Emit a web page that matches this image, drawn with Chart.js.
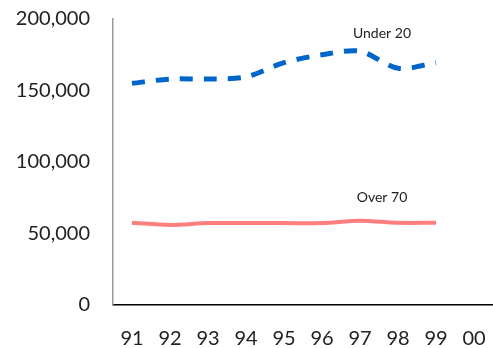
<!DOCTYPE html>
<html>
<head>
<meta charset="utf-8">
<script src="https://cdn.jsdelivr.net/npm/chart.js@4/dist/chart.umd.min.js"></script>
<style>
  html, body { margin: 0; padding: 0; background: #fff; }
  #wrap { width: 493px; height: 348px; }
</style>
</head>
<body>
<div id="wrap"><canvas id="chart" width="493" height="348"></canvas></div>
<script>
// years along the x axis
const years = ['91', '92', '93', '94', '95', '96', '97', '98', '99', '00'];
// series (no value for 00)
const under20 = [155000, 158000, 158000, 159500, 169500, 175000, 177500, 165500, 169500, null];
const over70 = [57500, 56000, 57300, 57300, 57300, 57300, 59000, 57500, 57500, null];
const yTicks = [0, 50000, 100000, 150000, 200000];

const tickFont = { family: 'Lato, "Open Sans", sans-serif', size: 20 };

// text labels placed next to a data point of each line
const seriesLabels = {
    id: 'seriesLabels',
    afterDatasetsDraw(chart) {
        const ctx = chart.ctx;
        const x = chart.scales.x;
        const y = chart.scales.y;
        ctx.save();
        ctx.font = '14px Lato, "Open Sans", sans-serif';
        ctx.fillStyle = '#222';
        ctx.textAlign = 'center';
        ctx.textBaseline = 'middle';
        ctx.fillText('Under 20', x.getPixelForValue(6) + 22, y.getPixelForValue(under20[6]) - 18);
        ctx.fillText('Over 70', x.getPixelForValue(6) + 22, y.getPixelForValue(over70[6]) - 23);
        ctx.restore();
    }
};

new Chart(document.getElementById('chart'), {
    type: 'line',
    data: {
        labels: years,
        datasets: [{
            label: 'Under 20',
            data: under20,
            borderColor: '#0066CC',
            borderWidth: 5,
            borderDash: [13, 11],
            pointRadius: 0,
            tension: 0.3
        }, {
            label: 'Over 70',
            data: over70,
            borderColor: '#FF7F7F',
            borderWidth: 4,
            pointRadius: 0,
            tension: 0.3
        }]
    },
    options: {
        responsive: false,
        animation: false,
        layout: { autoPadding: false, padding: { top: 19, right: 0, left: 0, bottom: 0 } },
        plugins: {
            legend: { display: false },
            tooltip: { enabled: false }
        },
        scales: {
            x: {
                offset: true,
                grid: { display: false, tickLength: 22 },
                border: { display: true, color: '#000', width: 1.5 },
                ticks: { font: tickFont, color: '#222', padding: 0, maxRotation: 0 },
                afterFit(scale) {
                    scale.height = 43;
                    scale.paddingLeft = 0;
                    scale.paddingRight = 0;
                }
            },
            y: {
                min: 0,
                max: 200000,
                grid: { display: false },
                border: { display: true, color: '#999', width: 1.5 },
                afterBuildTicks(scale) { scale.ticks = yTicks.map(v => ({ value: v })); },
                ticks: {
                    font: tickFont,
                    color: '#222',
                    padding: 15,
                    callback: v => v.toLocaleString('en-US')
                },
                afterFit(scale) {
                    scale.width = 113;
                    scale.paddingTop = 0;
                    scale.paddingBottom = 0;
                }
            }
        }
    },
    plugins: [seriesLabels]
});
</script>
</body>
</html>
